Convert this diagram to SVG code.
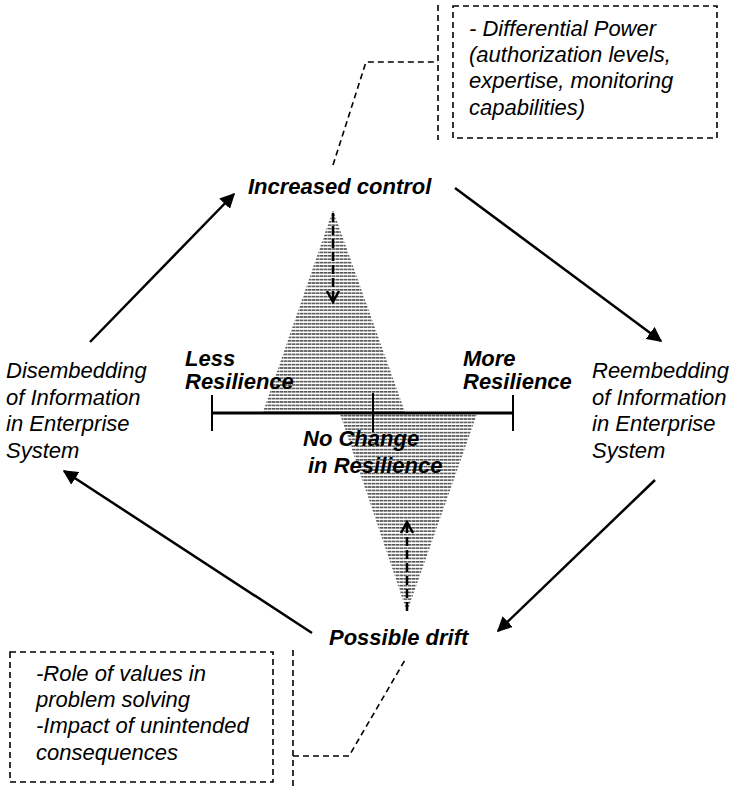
<svg xmlns="http://www.w3.org/2000/svg" width="731" height="787" viewBox="0 0 731 787">
<style>
text{font-family:"Liberation Sans",Arial,sans-serif;font-size:22px;fill:#000}
.i{font-style:italic}
.b{font-style:italic;font-weight:bold}
.arrow{stroke:#000;stroke-width:2.5;fill:none}
.dash{stroke:#000;stroke-width:1.6;fill:none;stroke-dasharray:6 4}
.darrow{stroke:#000;stroke-width:2.5;fill:none;stroke-dasharray:9 4}
.v{stroke:#000;stroke-width:2.5;fill:none}
.axis{stroke:#000;stroke-width:3;fill:none}
.tick{stroke:#000;stroke-width:2;fill:none}
</style>
<defs>
<marker id="ah" viewBox="0 0 10 10" refX="9" refY="5" markerWidth="6" markerHeight="6" orient="auto" markerUnits="strokeWidth">
<path d="M0,0 L10,5 L0,10 Z" fill="#000"/>
</marker>
<pattern id="hatch" patternUnits="userSpaceOnUse" width="4" height="3.4">
<rect x="0" y="0" width="3.2" height="1.6" fill="#555"/>
<rect x="3.2" y="0" width="0.8" height="1.6" fill="#999"/>
</pattern>
</defs>

<g id="shapes">
<polygon points="333,210 405,412 263,412" fill="url(#hatch)"/>
<polygon points="340,414 477,414 407,612" fill="url(#hatch)"/>
</g>

<g id="connectors">
<line class="arrow" x1="90" y1="342" x2="234" y2="194" marker-end="url(#ah)"/>
<line class="arrow" x1="455" y1="188" x2="661" y2="341" marker-end="url(#ah)"/>
<line class="arrow" x1="655" y1="480" x2="498" y2="631" marker-end="url(#ah)"/>
<line class="arrow" x1="312" y1="633" x2="64" y2="471" marker-end="url(#ah)"/>
<line class="darrow" x1="333" y1="213" x2="333" y2="301"/>
<polyline class="v" points="327,291 333,302 339,291"/>
<line class="darrow" x1="407" y1="611" x2="407" y2="523"/>
<polyline class="v" points="401,533 407,522 413,533"/>
<polyline class="dash" points="333,165 366,62 438,62"/>
<line class="dash" x1="438" y1="5" x2="438" y2="140"/>
<line class="dash" x1="293" y1="650" x2="293" y2="787"/>
<polyline class="dash" points="293,756 349,756 405,660"/>
</g>

<g id="scale">
<line class="axis" x1="212" y1="413" x2="513" y2="413"/>
<line class="tick" x1="212" y1="395" x2="212" y2="431"/>
<line class="tick" x1="373" y1="393" x2="373" y2="432"/>
<line class="tick" x1="513" y1="395" x2="513" y2="431"/>
<text class="b" x="185" y="366">Less</text>
<text class="b" x="185" y="389">Resilience</text>
<text class="b" x="463" y="366">More</text>
<text class="b" x="463" y="389">Resilience</text>
<text class="b" x="303" y="446">No Change</text>
<text class="b" x="308" y="473">in Resilience</text>
</g>

<g id="increased-control">
<text class="b" x="248" y="194">Increased control</text>
</g>

<g id="possible-drift">
<text class="b" x="329" y="645">Possible drift</text>
</g>

<g id="disembedding">
<text class="i" x="6" y="378">Disembedding</text>
<text class="i" x="6" y="404.5">of Information</text>
<text class="i" x="6" y="431">in Enterprise</text>
<text class="i" x="6" y="457.5">System</text>
</g>

<g id="reembedding">
<text class="i" x="592" y="378">Reembedding</text>
<text class="i" x="592" y="404.5">of Information</text>
<text class="i" x="592" y="431">in Enterprise</text>
<text class="i" x="592" y="457.5">System</text>
</g>

<g id="power-note">
<rect class="dash" x="453" y="6" width="264" height="132"/>
<text class="i" x="469" y="36">- Differential Power</text>
<text class="i" x="469" y="62">(authorization levels,</text>
<text class="i" x="469" y="88">expertise, monitoring</text>
<text class="i" x="469" y="115">capabilities)</text>
</g>

<g id="values-note">
<rect class="dash" x="10" y="652" width="263" height="130"/>
<text class="i" x="36" y="681">-Role of values in</text>
<text class="i" x="36" y="707">problem solving</text>
<text class="i" x="36" y="733">-Impact of unintended</text>
<text class="i" x="36" y="760">consequences</text>
</g>
</svg>
